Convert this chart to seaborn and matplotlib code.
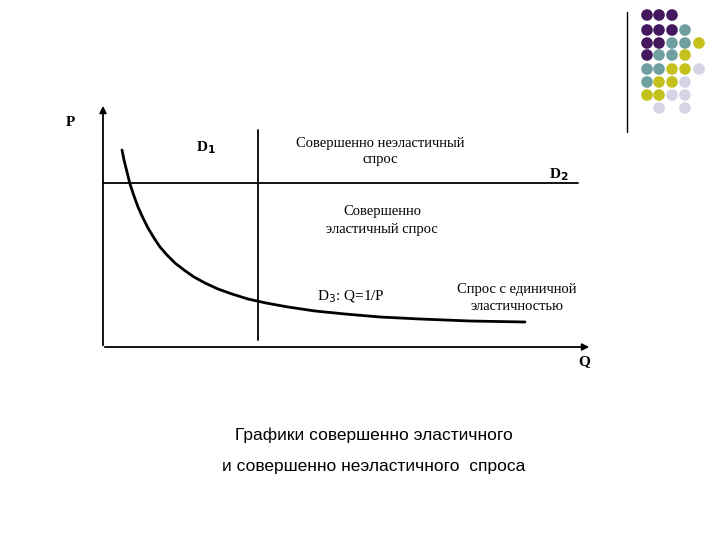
import matplotlib
matplotlib.use("Agg")
import matplotlib.pyplot as plt
import seaborn as sns
import pandas as pd

# demand curve D3 (screen pixel coordinates)
curve_q = [122, 124, 127, 130, 134, 138, 143, 148, 154, 160, 167, 175, 184, 194, 205, 218, 232, 248, 266, 288, 315, 345, 380, 420, 470, 525]
curve_p = [150, 160, 172, 184, 196, 207, 218, 228, 238, 247, 255, 263, 270, 277, 283, 289, 294, 299, 303, 307, 311, 314, 317, 319, 321, 322]
# dot grid: rows of colour codes
dot_rows = ["PPP", "PPPT", "PPTTY", "PTTY", "TTYYL", "TYYL", "YYLL", ".L.L"]
dot_colors = {"P": "#43185e", "T": "#6f9fa0", "Y": "#c4c11c", "L": "#d5d5e6"}

sns.set_theme(style="white")
fig = plt.figure(figsize=(7.2, 5.4), dpi=100)
ax = fig.add_axes([0, 0, 1, 1])
ax.set_xlim(0, 720); ax.set_ylim(540, 0); ax.axis("off")

df = pd.DataFrame({"q": curve_q, "p": curve_p})
sns.lineplot(data=df, x="q", y="p", ax=ax, color="black", lw=2, sort=False, legend=False)

# axes with arrows
ax.annotate("", xy=(103, 103), xytext=(103, 348),
            arrowprops=dict(arrowstyle="-|>", color="black", lw=1.3, mutation_scale=10))
ax.annotate("", xy=(592, 347), xytext=(102, 347),
            arrowprops=dict(arrowstyle="-|>", color="black", lw=1.3, mutation_scale=10))
ax.plot([258, 258], [130, 340], color="black", lw=1.3)
ax.plot([103, 578], [183, 183], color="black", lw=1.3)

serif = dict(family="Liberation Serif", color="black")
ax.text(66, 122, "P", fontsize=11, fontweight="bold", va="center", **serif)
ax.text(196, 148, "D$_\\mathbf{1}$", fontsize=11, fontweight="bold", va="center", **serif)
ax.text(380, 152, "Совершенно неэластичный\nспрос", fontsize=10.5, ha="center", va="center", linespacing=1.3, **serif)
ax.text(549, 175, "D$_\\mathbf{2}$", fontsize=11, fontweight="bold", va="center", **serif)
ax.text(382, 220, "Совершенно\nэластичный спрос", fontsize=10.5, ha="center", va="center", linespacing=1.5, **serif)
ax.text(317, 297, "D$_3$: Q=1/P", fontsize=11, va="center", **serif)
ax.text(517, 298, "Спрос с единичной\nэластичностью", fontsize=10.5, ha="center", va="center", linespacing=1.3, **serif)
ax.text(578, 362, "Q", fontsize=11, fontweight="bold", va="center", **serif)
ax.text(374, 435, "Графики совершенно эластичного", fontsize=12.5, ha="center", va="center",
        family="Liberation Sans", color="black")
ax.text(374, 466, "и совершенно неэластичного  спроса", fontsize=12.5, ha="center", va="center",
        family="Liberation Sans", color="black")

# decorative dot grid
col_x = [647, 659, 672, 685, 699]
row_y = [15, 30, 43, 55, 69, 82, 95, 108]
for r, row in enumerate(dot_rows):
    for c, code in enumerate(row):
        if code in dot_colors:
            ax.scatter(col_x[c], row_y[r], s=70, color=dot_colors[code], edgecolors="none")
ax.plot([627, 627], [12, 132], color="black", lw=1)

fig.savefig("out.png", dpi=100)
